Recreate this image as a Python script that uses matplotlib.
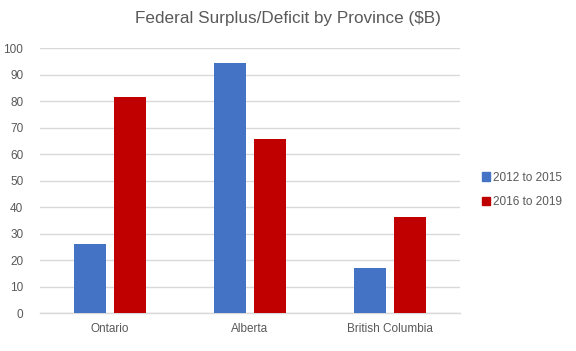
import numpy as np
import matplotlib
matplotlib.use('Agg')
import matplotlib.pyplot as plt
from matplotlib.patches import Patch

# Data
provinces = ['Ontario', 'Alberta', 'British Columbia']
series_names = ['2012 to 2015', '2016 to 2019']
values_2012_2015 = [26.2, 94.4, 17.1]
values_2016_2019 = [81.6, 65.8, 36.3]
colors = ['#4472C4', '#C00000']

plt.rcParams['font.family'] = ['Liberation Sans', 'DejaVu Sans']
text_color = '#595959'

fig = plt.figure(figsize=(5.76, 3.51), dpi=100)
ax = fig.add_axes([40 / 576, 1 - 313.3 / 351, 420 / 576, 265 / 351])

x = np.arange(len(provinces))
width = 0.2286
offset = 0.143
ax.bar(x - offset, values_2012_2015, width, color=colors[0], zorder=3)
ax.bar(x + offset, values_2016_2019, width, color=colors[1], zorder=3)

ax.set_xlim(-0.5, 2.5)
ax.set_ylim(0, 100)
ax.set_yticks(range(0, 101, 10))
ax.set_xticks(x)
ax.set_xticklabels(provinces)
ax.tick_params(length=0, labelsize=8.5, colors=text_color)
ax.tick_params(axis='x', pad=7)
ax.tick_params(axis='y', pad=12)

ax.grid(axis='y', color='#d9d9d9', linewidth=1, zorder=0)
for side in ['top', 'right', 'left']:
    ax.spines[side].set_visible(False)
ax.spines['bottom'].set_color('#d9d9d9')
ax.spines['bottom'].set_linewidth(1)

fig.text(0.5, 1 - 18 / 351, 'Federal Surplus/Deficit by Province ($B)',
         ha='center', va='center', fontsize=12.3, color=text_color)

handles = [Patch(color=c, label=n) for c, n in zip(colors, series_names)]
fig.legend(handles=handles, loc='center left', bbox_to_anchor=(471 / 576, 1 - 190 / 351),
           frameon=False, fontsize=8.5, labelcolor=text_color,
           handlelength=0.7, handleheight=0.7, handletextpad=0.3, labelspacing=1.1)

fig.savefig('out.png', dpi=100)
